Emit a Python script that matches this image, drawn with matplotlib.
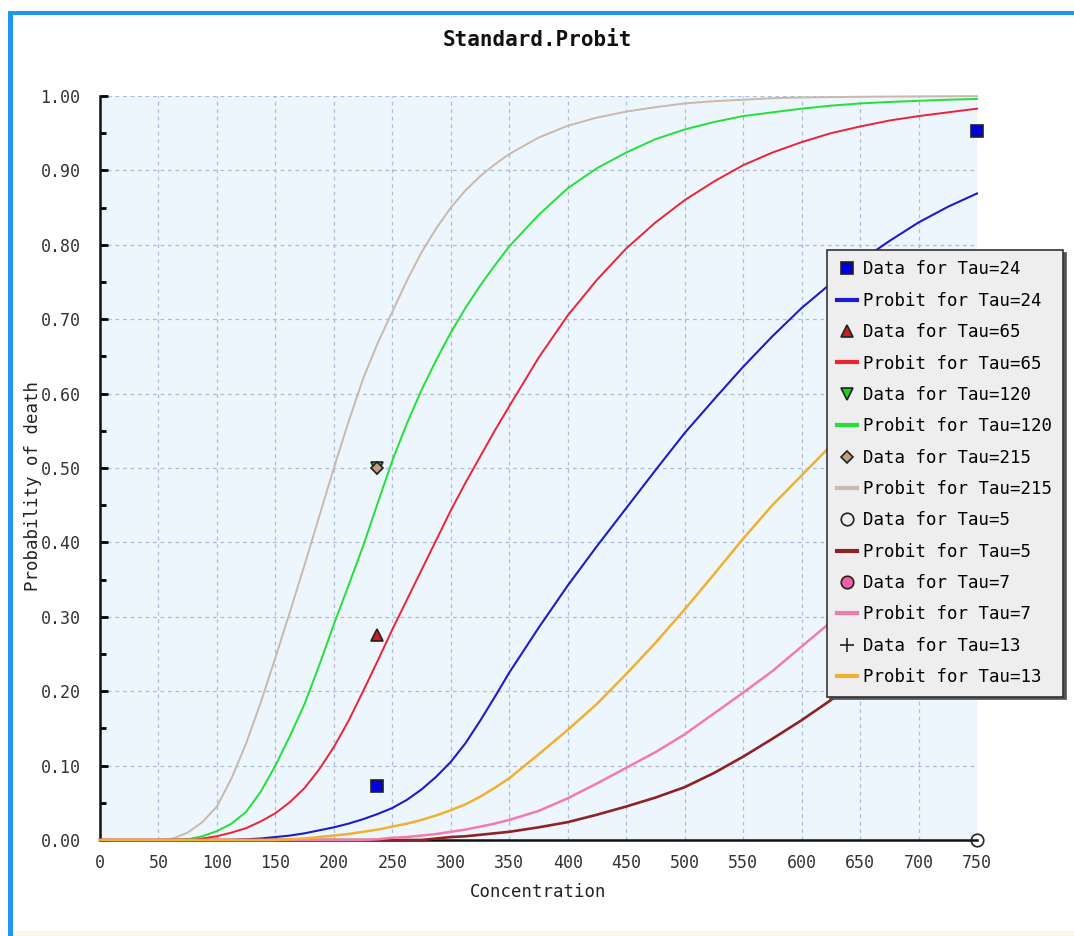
import matplotlib
matplotlib.use("Agg")
import matplotlib.pyplot as plt
from matplotlib.lines import Line2D
from matplotlib.patches import Rectangle
from matplotlib.ticker import MultipleLocator, FormatStrFormatter


MONO = "DejaVu Sans Mono"

CONCENTRATION = [
    0, 25, 50, 62.5, 75, 87.5, 100, 112.5, 125, 137.5, 150, 162.5, 175,
    187.5, 200, 212.5, 225, 237.5, 250, 262.5, 275, 287.5, 300, 312.5, 325,
    337.5, 350, 375, 400, 425, 450, 475, 500, 525, 550, 575, 600, 625, 650,
    675, 700, 725, 750,
]

# probit curves, one value per concentration above
PROBIT_TAU_24 = [
    0, 0, 0, 0, 0, 0, 0, 0, 0.001, 0.002, 0.004, 0.006, 0.009, 0.013, 0.017,
    0.022, 0.028, 0.035, 0.043, 0.054, 0.068, 0.085, 0.105, 0.13, 0.16,
    0.192, 0.225, 0.285, 0.342, 0.395, 0.446, 0.497, 0.547, 0.592, 0.636,
    0.677, 0.715, 0.748, 0.778, 0.805, 0.83, 0.851, 0.869,
]
PROBIT_TAU_65 = [
    0, 0, 0, 0, 0.001, 0.002, 0.005, 0.01, 0.016, 0.025, 0.036, 0.051, 0.07,
    0.095, 0.125, 0.16, 0.2, 0.241, 0.283, 0.323, 0.363, 0.403, 0.443, 0.48,
    0.515, 0.55, 0.583, 0.648, 0.705, 0.753, 0.795, 0.83, 0.86, 0.885,
    0.907, 0.924, 0.938, 0.95, 0.959, 0.967, 0.973, 0.978, 0.983,
]
PROBIT_TAU_120 = [
    0, 0, 0, 0, 0.001, 0.005, 0.012, 0.022, 0.038, 0.065, 0.1, 0.14, 0.183,
    0.235, 0.29, 0.342, 0.395, 0.453, 0.51, 0.56, 0.605, 0.645, 0.682, 0.715,
    0.745, 0.772, 0.798, 0.84, 0.876, 0.903, 0.924, 0.942, 0.955, 0.965,
    0.973, 0.978, 0.983, 0.987, 0.99, 0.992, 0.9935, 0.995, 0.996,
]
PROBIT_TAU_215 = [
    0, 0, 0, 0.002, 0.01, 0.024, 0.045, 0.083, 0.13, 0.185, 0.245, 0.307,
    0.37, 0.435, 0.5, 0.562, 0.62, 0.668, 0.71, 0.752, 0.79, 0.822, 0.85,
    0.873, 0.892, 0.908, 0.922, 0.944, 0.96, 0.971, 0.979, 0.985, 0.99,
    0.993, 0.995, 0.997, 0.998, 0.9985, 0.999, 0.9993, 0.9995, 0.9997,
    0.9998,
]
PROBIT_TAU_5 = [
    0, 0, 0, 0, 0, 0, 0, 0, 0, 0, 0, 0, 0, 0, 0, 0, 0, 0, 0, 0, 0, 0.002,
    0.004, 0.005, 0.007, 0.009, 0.011, 0.017, 0.024, 0.034, 0.045, 0.057,
    0.071, 0.09, 0.112, 0.136, 0.161, 0.188, 0.215, 0.243, 0.272, 0.3, 0.328,
]
PROBIT_TAU_7 = [
    0, 0, 0, 0, 0, 0, 0, 0, 0, 0, 0, 0, 0, 0, 0, 0, 0, 0.001, 0.003, 0.004,
    0.006, 0.008, 0.011, 0.014, 0.018, 0.022, 0.027, 0.039, 0.056, 0.076,
    0.097, 0.118, 0.142, 0.17, 0.198, 0.227, 0.26, 0.293, 0.325, 0.357,
    0.388, 0.418, 0.448,
]
PROBIT_TAU_13 = [
    0, 0, 0, 0, 0, 0, 0, 0, 0, 0, 0, 0.001, 0.002, 0.004, 0.006, 0.008,
    0.011, 0.014, 0.018, 0.022, 0.027, 0.033, 0.04, 0.048, 0.058, 0.07,
    0.083, 0.115, 0.148, 0.183, 0.223, 0.265, 0.31, 0.357, 0.405, 0.45,
    0.49, 0.53, 0.57, 0.605, 0.64, 0.672, 0.7,
]

# observed points
DATA_X_24 = [237, 750]
DATA_Y_24 = [0.072, 0.953]
DATA_X_65 = [237]
DATA_Y_65 = [0.275]
DATA_X_120 = [237]
DATA_Y_120 = [0.50]
DATA_X_215 = [237]
DATA_Y_215 = [0.50]
DATA_X_5 = [750]
DATA_Y_5 = [0.0]
DATA_X_7 = []
DATA_Y_7 = []
DATA_X_13 = []
DATA_Y_13 = []

TAUS = ["24", "65", "120", "215", "5", "7", "13"]

SERIES = [
    ("24", PROBIT_TAU_24, DATA_X_24, DATA_Y_24, "#1c1cc8", "s", "#0000dd"),
    ("65", PROBIT_TAU_65, DATA_X_65, DATA_Y_65, "#ee2233", "^", "#cc2020"),
    ("120", PROBIT_TAU_120, DATA_X_120, DATA_Y_120, "#22e036", "v", "#22cc22"),
    ("215", PROBIT_TAU_215, DATA_X_215, DATA_Y_215, "#c8b9aa", "D", "#bfa080"),
    ("5", PROBIT_TAU_5, DATA_X_5, DATA_Y_5, "#8e2224", "o", "none"),
    ("7", PROBIT_TAU_7, DATA_X_7, DATA_Y_7, "#f27aae", "o", "#f060a8"),
    ("13", PROBIT_TAU_13, DATA_X_13, DATA_Y_13, "#f0b030", "+", "#000000"),
]

MARKER_SIZES = {"s": 8, "^": 9, "v": 9, "D": 6, "o": 9, "+": 10}
LINE_WIDTHS = {"24": 1.5, "65": 1.4, "120": 1.4, "215": 1.4, "5": 1.9,
               "7": 1.8, "13": 1.8}


def px_w(value):
    return value / 1074


def px_h(value):
    return value / 936


def draw_frame(fig):
    # window border of the original screenshot
    fig.add_artist(Rectangle((px_w(8), 0), px_w(5), 1 - px_h(11),
                             transform=fig.transFigure, color="#1f97ef", lw=0))
    fig.add_artist(Rectangle((px_w(8), 1 - px_h(15)), 1, px_h(4),
                             transform=fig.transFigure, color="#1f97ef", lw=0))
    fig.add_artist(Rectangle((px_w(13), 0), 1, px_h(5),
                             transform=fig.transFigure, color="#fdf6e6", lw=0))


def main():
    fig = plt.figure(figsize=(10.74, 9.36), dpi=100)
    ax = fig.add_axes([px_w(100), 1 - px_h(840), px_w(877), px_h(744)])
    ax.set_facecolor("#eef6fd")

    ax.set_xlim(0, 750)
    ax.set_ylim(0, 1)
    ax.xaxis.set_major_locator(MultipleLocator(50))
    ax.yaxis.set_major_locator(MultipleLocator(0.1))
    ax.yaxis.set_minor_locator(MultipleLocator(0.05))
    ax.yaxis.set_major_formatter(FormatStrFormatter("%.2f"))

    ax.grid(True, which="major", color="#a9bddc", linestyle=(0, (3, 3)),
            linewidth=0.9)
    ax.set_axisbelow(True)

    for side in ["top", "right"]:
        ax.spines[side].set_visible(False)
    for side in ["left", "bottom"]:
        ax.spines[side].set_linewidth(1.8)
        ax.spines[side].set_color("#111111")

    ax.tick_params(axis="y", which="major", direction="in", length=6,
                   width=2, pad=14, labelsize=12, labelcolor="#333333")
    ax.tick_params(axis="y", which="minor", direction="in", length=4,
                   width=2)
    ax.tick_params(axis="x", which="major", direction="in", length=0,
                   pad=10, labelsize=12, labelcolor="#333333")
    for label in ax.get_xticklabels() + ax.get_yticklabels():
        label.set_fontfamily(MONO)

    line_handles = {}
    for tau, curve, _, _, color, _, _ in SERIES:
        (line,) = ax.plot(CONCENTRATION, curve, color=color,
                          linewidth=LINE_WIDTHS[tau], clip_on=False, zorder=3)
        line_handles[tau] = line

    point_handles = {}
    for tau, _, data_x, data_y, _, marker, face in SERIES:
        (points,) = ax.plot(data_x, data_y, linestyle="none", marker=marker,
                            markersize=MARKER_SIZES[marker],
                            markerfacecolor=face, markeredgecolor="#222222",
                            markeredgewidth=1.2, clip_on=False, zorder=5)
        point_handles[tau] = points

    handles = []
    labels = []
    for tau in TAUS:
        handles.append(point_handles[tau])
        labels.append(f"Data for Tau={tau}")
        handles.append(Line2D([], [], color=line_handles[tau].get_color(),
                              linewidth=3))
        labels.append(f"Probit for Tau={tau}")

    legend = fig.legend(
        handles,
        labels,
        loc="upper left",
        bbox_to_anchor=(px_w(827), 1 - px_h(250)),
        bbox_transform=fig.transFigure,
        prop={"family": MONO, "size": 12.5},
        frameon=True,
        fancybox=False,
        shadow={"color": "#555555", "alpha": 1.0},
        facecolor="#eeeeee",
        edgecolor="#333333",
        framealpha=1,
        borderpad=0.6,
        labelspacing=0.77,
        handlelength=1.1,
        handletextpad=0.4,
        borderaxespad=0,
    )
    legend.get_frame().set_linewidth(1.2)
    legend.set_zorder(10)

    ax.set_xlabel("Concentration", fontfamily=MONO, fontsize=12.5,
                  color="#222222", labelpad=8)
    ax.set_ylabel("Probability of death", fontfamily=MONO, fontsize=12.5,
                  color="#222222")
    ax.yaxis.set_label_coords(-0.066, 0.476)
    fig.text(0.5, 1 - px_h(40), "Standard.Probit", ha="center", va="center",
             fontfamily=MONO, fontweight="bold", fontsize=15, color="#111111")

    draw_frame(fig)

    fig.savefig("out.png", dpi=100, facecolor="white")
    plt.close(fig)


if __name__ == "__main__":
    main()
